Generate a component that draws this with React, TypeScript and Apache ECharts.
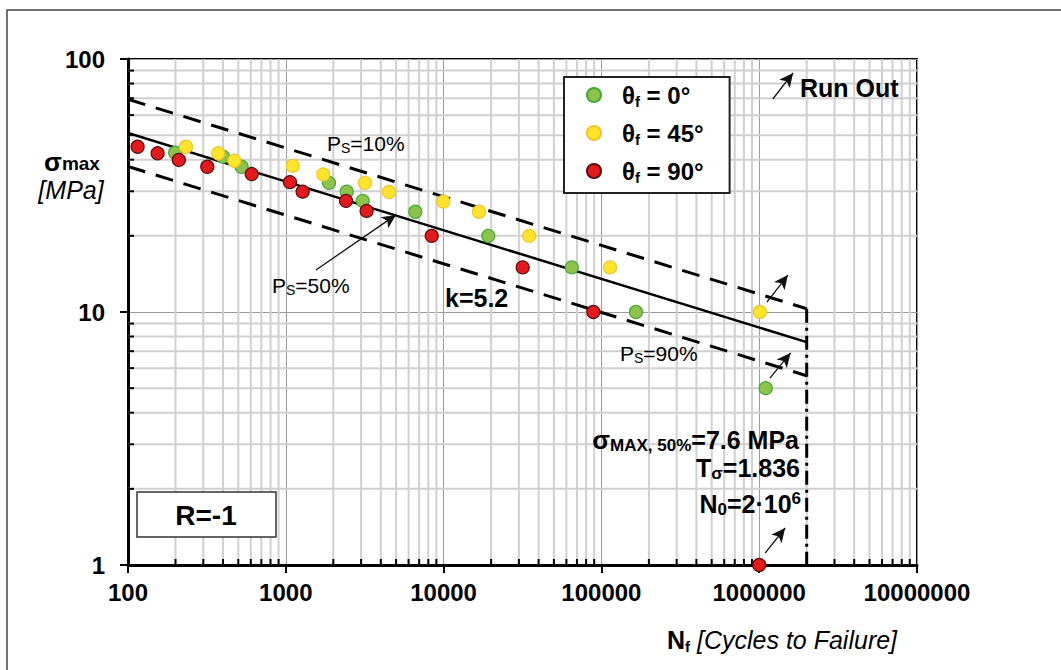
import React, { useEffect, useRef } from "react";
import * as echarts from "echarts";

const FF = '"Liberation Sans", Arial, sans-serif';

const seriesNames = ["θf = 0°", "θf = 45°", "θf = 90°"];
const legendRest = [" = 0°", " = 45°", " = 90°"];

// [cycles to failure, sigma max (MPa)]
const green0: [number, number][] = [
  [199, 42.6], [400, 41.1], [525, 37.5], [1879, 32.4], [2432, 29.9], [3070, 27.5],
  [6620, 24.9], [19200, 20], [64900, 15], [165600, 10], [1100000, 5],
];
const yellow45: [number, number][] = [
  [233, 45], [373, 42.4], [472, 39.6], [1106, 37.8], [1729, 35], [3177, 32.4],
  [4510, 29.8], [9960, 27.3], [16760, 24.9], [34900, 20], [113300, 15], [1010000, 10],
];
const red90: [number, number][] = [
  [115, 45], [154, 42.4], [210, 39.9], [318, 37.5], [608, 35.1], [1063, 32.6],
  [1279, 29.9], [2407, 27.5], [3252, 25.1], [8407, 20], [31700, 15], [88900, 10], [1000000, 1],
];

const curve50: [number, number][] = [[100, 51], [2000000, 7.6]];
const curve10: [number, number][] = [[100, 69.3], [2000000, 10.3]];
const curve90: [number, number][] = [[100, 37.6], [2000000, 5.6]];
const kneeLine: [number, number][] = [[2000000, 10.3], [2000000, 1]];

const arrows: [[number, number], [number, number]][] = [
  [[1553, 14.66], [4990, 24.2]],
  [[1120000, 10.95], [1520000, 14.0]],
  [[1170000, 5.48], [1580000, 6.89]],
  [[1090000, 1.115], [1460000, 1.4]],
  [[1220000, 69.5], [1640000, 88.1]],
];

const xMinorGrid = [
  200, 300, 400, 500, 600, 700, 800, 900,
  2000, 3000, 4000, 5000, 6000, 7000, 8000, 9000,
  20000, 30000, 40000, 50000, 60000, 70000, 80000, 90000,
  200000, 300000, 400000, 500000, 600000, 700000, 800000, 900000,
  2000000, 3000000, 4000000, 5000000, 6000000, 7000000, 8000000, 9000000,
];
const yMinorGrid = [2, 3, 4, 5, 6, 7, 8, 9, 20, 30, 40, 50, 60, 70, 80, 90];

const X_MIN = 100, X_MAX = 10000000, Y_MIN = 1, Y_MAX = 100;

function txt(x: number, y: number, text: string, rich: any, align = "left") {
  return {
    type: "text",
    x,
    y,
    z: 50,
    silent: true,
    style: {
      text,
      rich,
      fill: "#000",
      align,
      textAlign: align,
      verticalAlign: "middle",
      textVerticalAlign: "middle",
      fontFamily: FF,
    },
  };
}

export default function App() {
  const ref = useRef<HTMLDivElement>(null);
  useEffect(() => {
    if (!ref.current) return;
    const chart = echarts.init(ref.current, undefined, { renderer: "svg" });

    const bigB = (s: number) => ({ fontSize: s, fontWeight: "bold", fontFamily: FF, color: "#000" });
    const sub = (s: number, lh: number) => ({ fontSize: s, fontWeight: "bold", fontFamily: FF, color: "#000", lineHeight: lh, verticalAlign: "bottom" });
    const psRich = {
      a: { fontSize: 21, fontFamily: FF, color: "#000", lineHeight: 24 },
      b: { fontSize: 14, fontFamily: FF, color: "#000", lineHeight: 11, verticalAlign: "bottom" },
    };

    const option: any = {
      animation: false,
      backgroundColor: "#fff",
      grid: { left: 128, top: 59, width: 789, height: 506, show: true, borderColor: "#000", borderWidth: 2, backgroundColor: "transparent" },
      xAxis: {
        type: "log", logBase: 10, min: X_MIN, max: X_MAX,
        axisLine: { show: true, lineStyle: { color: "#000", width: 3 } },
        axisTick: { show: true, length: 8, lineStyle: { color: "#000", width: 2 } },
        axisLabel: { formatter: (v: number) => String(Math.round(v)), fontSize: 24, fontWeight: "bold", color: "#000", margin: 15, fontFamily: FF },
        splitLine: { show: true, lineStyle: { color: "#9a9a9a", width: 1 } },
      },
      yAxis: {
        type: "log", logBase: 10, min: Y_MIN, max: Y_MAX,
        axisLine: { show: true, lineStyle: { color: "#000", width: 3 } },
        axisTick: { show: true, length: 8, lineStyle: { color: "#000", width: 2 } },
        axisLabel: { formatter: (v: number) => String(Math.round(v)), fontSize: 24, fontWeight: "bold", color: "#000", margin: 23, fontFamily: FF },
        splitLine: { show: true, lineStyle: { color: "#9a9a9a", width: 1 } },
      },
      legend: {
        data: seriesNames,
        orient: "vertical",
        left: 564,
        top: 77,
        backgroundColor: "#fff",
        borderColor: "#222",
        borderWidth: 2,
        borderRadius: 0,
        padding: [6, 26, 8, 22],
        itemGap: 12,
        itemWidth: 14,
        itemHeight: 14,
        icon: "circle",
        selectedMode: false,
        formatter: (name: string) => {
          const i = seriesNames.indexOf(name);
          return `{g| }{t|θ}{s|f}{t|${legendRest[i]}}`;
        },
        textStyle: {
          rich: {
            g: { width: 16, fontSize: 12 },
            t: { ...bigB(24), lineHeight: 28 },
            s: sub(15, 11),
          },
        },
      },
      graphic: [
        { type: "rect", z: -10, silent: true, shape: { x: 7, y: 10, width: 1200, height: 800 }, style: { fill: "none", stroke: "#444", lineWidth: 1.5 } },
        { type: "rect", z: 40, silent: true, shape: { x: 137, y: 492, width: 139, height: 45 }, style: { fill: "#fff", stroke: "#333", lineWidth: 1.5 } },
        txt(206, 515, "{a|R=-1}", { a: bigB(28) }, "center"),
        txt(72, 162, "{a|σ}{b|max}", { a: { ...bigB(26), lineHeight: 22 }, b: sub(19, 12) }, "center"),
        txt(71, 190, "{a|[MPa]}", { a: { fontSize: 25, fontStyle: "italic", fontFamily: FF, color: "#000", lineHeight: 24 } }, "center"),
        txt(667, 640, "{a|N}{b|f}{c| [Cycles to Failure]}", {
          a: { ...bigB(25), lineHeight: 28 },
          b: sub(15, 11),
          c: { fontSize: 25, fontStyle: "italic", fontFamily: FF, color: "#000", lineHeight: 28 },
        }),
        txt(327, 143, "{a|P}{b|S}{a|=10%}", psRich),
        txt(272, 285, "{a|P}{b|S}{a|=50%}", psRich),
        txt(620, 353, "{a|P}{b|S}{a|=90%}", psRich),
        txt(445, 298, "{a|k=5.2}", { a: bigB(25) }),
        txt(800, 88, "{a|Run Out}", { a: bigB(25) }),
        txt(799, 440, "{a|σ}{b|MAX, 50%}{c|=7.6 MPa}", { a: { ...bigB(26), lineHeight: 28 }, b: { ...sub(17, 14) }, c: { ...bigB(25), lineHeight: 28 } }, "right"),
        txt(800, 468, "{a|T}{b|σ}{a|=1.836}", { a: { ...bigB(25), lineHeight: 28 }, b: sub(17, 14) }, "right"),
        txt(801, 504, "{a|N}{b|0}{a|=2·10}{c|6}", { a: { ...bigB(25), lineHeight: 28 }, b: sub(17, 14), c: { ...bigB(17), lineHeight: 14, verticalAlign: "top" } }, "right"),
      ],
      series: [
        {
          type: "custom", name: "xminor", coordinateSystem: "cartesian2d", silent: true, z: 1, clip: false,
          data: xMinorGrid.map((v) => [v, Y_MIN]),
          encode: { x: 0, y: 1 },
          renderItem: (params: any, api: any) => {
            const v = api.value(0);
            const p1 = api.coord([v, Y_MIN]);
            const p2 = api.coord([v, Y_MAX]);
            return {
              type: "group",
              children: [
                { type: "line", shape: { x1: p1[0], y1: p1[1], x2: p2[0], y2: p2[1] }, style: { stroke: "#d0d0d0", lineWidth: 2 } },
                { type: "line", z2: 5, shape: { x1: p1[0], y1: p1[1], x2: p1[0], y2: p1[1] - 6 }, style: { stroke: "#000", lineWidth: 2 } },
              ],
            };
          },
        },
        {
          type: "custom", name: "yminor", coordinateSystem: "cartesian2d", silent: true, z: 1, clip: false,
          data: yMinorGrid.map((v) => [X_MIN, v]),
          encode: { x: 0, y: 1 },
          renderItem: (params: any, api: any) => {
            const v = api.value(1);
            const p1 = api.coord([X_MIN, v]);
            const p2 = api.coord([X_MAX, v]);
            return {
              type: "group",
              children: [
                { type: "line", shape: { x1: p1[0], y1: p1[1], x2: p2[0], y2: p2[1] }, style: { stroke: "#d0d0d0", lineWidth: 2 } },
                { type: "line", z2: 5, shape: { x1: p1[0], y1: p1[1], x2: p1[0] + 6, y2: p1[1] }, style: { stroke: "#000", lineWidth: 2 } },
              ],
            };
          },
        },
        {
          type: "line", name: "Ps10", data: curve10, showSymbol: false, symbol: "none", silent: true, z: 3,
          lineStyle: { color: "#000", width: 3, type: [18, 11] },
        },
        {
          type: "line", name: "Ps90", data: curve90, showSymbol: false, symbol: "none", silent: true, z: 3,
          lineStyle: { color: "#000", width: 3, type: [18, 11] },
        },
        {
          type: "line", name: "knee", data: kneeLine, showSymbol: false, symbol: "none", silent: true, z: 3,
          lineStyle: { color: "#000", width: 3, type: [14, 5, 3, 5] },
        },
        {
          type: "line", name: "Ps50", data: curve50, showSymbol: false, symbol: "none", silent: true, z: 3,
          lineStyle: { color: "#000", width: 2.5, type: "solid" },
          markLine: {
            silent: true,
            symbol: ["none", "arrow"],
            symbolSize: [10, 14],
            label: { show: false },
            lineStyle: { color: "#111", width: 1.3, type: "solid" },
            data: arrows.map((a) => [{ coord: a[0] }, { coord: a[1] }]),
          },
        },
        {
          type: "scatter", name: seriesNames[0], data: green0, symbolSize: 13, z: 10,
          itemStyle: { color: "#8dc34b", borderColor: "#44a83a", borderWidth: 1.2, opacity: 1 },
        },
        {
          type: "scatter", name: seriesNames[1], data: yellow45, symbolSize: 13, z: 10,
          itemStyle: { color: "#ffe52a", borderColor: "#f2c42c", borderWidth: 1.2, opacity: 1 },
        },
        {
          type: "scatter", name: seriesNames[2], data: red90, symbolSize: 13, z: 10,
          itemStyle: { color: "#e3191b", borderColor: "#5a0b0b", borderWidth: 1.2, opacity: 1 },
        },
      ],
    };
    chart.setOption(option);
    return () => chart.dispose();
  }, []);
  return <div ref={ref} style={{ position: "fixed", left: 0, top: 0, width: 1061, height: 670 }} />;
}
